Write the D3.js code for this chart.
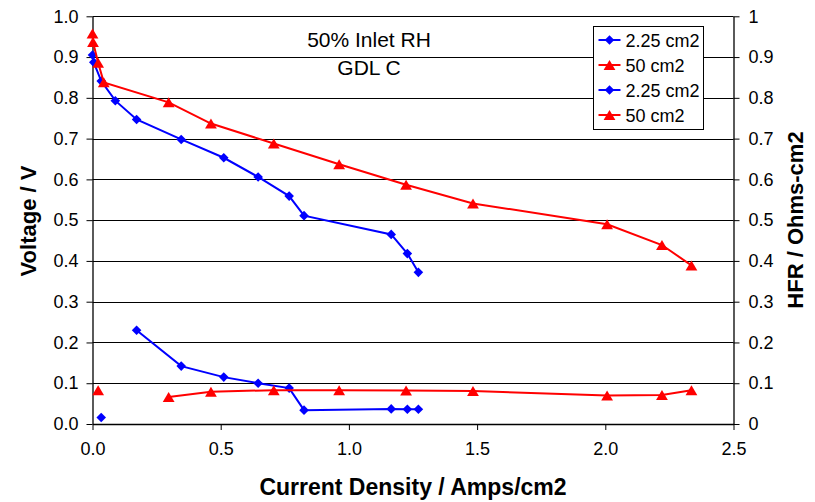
<html>
<head>
<script src="https://d3js.org/d3.v7.min.js"></script>
<style>
  body { margin: 0; background: #fff; }
  svg text { font-family: "Liberation Sans", Arial, sans-serif; fill: #000; }
</style>
</head>
<body>
<div id="graph"></div>
<script>
// current density (A/cm2) shared by voltage and HFR for each cell
var currentSmall = [0.000, 0.005, 0.034, 0.089, 0.172, 0.346, 0.512, 0.646, 0.767, 0.825, 1.165, 1.228, 1.271];
var voltageSmall = [0.905, 0.887, 0.841, 0.793, 0.747, 0.698, 0.653, 0.606, 0.559, 0.511, 0.465, 0.418, 0.372];
var hfrSmall     = [null, null, 0.016, null, 0.230, 0.142, 0.115, 0.100, 0.088, 0.034, 0.037, 0.036, 0.036];

var currentLarge = [0.000, 0.002, 0.022, 0.044, 0.297, 0.462, 0.707, 0.962, 1.223, 1.484, 2.007, 2.221, 2.336];
var voltageLarge = [0.958, 0.937, 0.886, 0.838, 0.789, 0.737, 0.688, 0.637, 0.587, 0.541, 0.490, 0.439, 0.389];
var hfrLarge     = [null, null, 0.083, null, 0.066, 0.079, 0.083, 0.083, 0.082, 0.081, 0.070, 0.071, 0.083];

var legendLabels = ["2.25 cm2", "50 cm2", "2.25 cm2", "50 cm2"];
var xTicks = [0, 0.5, 1.0, 1.5, 2.0, 2.5];
var yTicks = [0, 0.1, 0.2, 0.3, 0.4, 0.5, 0.6, 0.7, 0.8, 0.9, 1.0];

var blue = "#0000ff", red = "#ff0000";

var width = 815, height = 502;
var svg = d3.select("#graph").append("svg")
    .attr("width", width).attr("height", height);
svg.append("rect").attr("width", width).attr("height", height).attr("fill", "#fff");

var x = d3.scaleLinear().domain([0, 2.5]).range([92.5, 733.5]);
var y = d3.scaleLinear().domain([0, 1]).range([424, 16.3]);

// excel-ish markers centred on their box
var diamond = { draw: function(ctx, size) {
    var r = Math.sqrt(size) / 2 * 1.414;
    ctx.moveTo(0, -r); ctx.lineTo(r, 0); ctx.lineTo(0, r); ctx.lineTo(-r, 0); ctx.closePath();
}};
var triangle = { draw: function(ctx, size) {
    var w = Math.sqrt(size * 2.4), h = w * 0.85;
    ctx.moveTo(0, -h / 2); ctx.lineTo(w / 2, h / 2); ctx.lineTo(-w / 2, h / 2); ctx.closePath();
}};

// gridlines
svg.append("g").selectAll("line")
    .data(yTicks.filter(function(d) { return d > 0; }))
    .enter().append("line")
    .attr("x1", x(0)).attr("x2", x(2.5))
    .attr("y1", function(d) { return Math.round(y(d)) + 0.5; })
    .attr("y2", function(d) { return Math.round(y(d)) + 0.5; })
    .attr("stroke", "#000").attr("stroke-width", 1);

function customAxis(g) {
    g.select(".domain").attr("stroke", "#000").attr("stroke-width", 1.3);
    g.selectAll(".tick line").attr("stroke", "#000");
    g.selectAll(".tick text").style("font-size", "18px").style("font-family", "Liberation Sans, Arial, sans-serif");
}

var yLeft = d3.axisLeft(y).tickValues(yTicks).tickSize(6).tickSizeOuter(0)
    .tickFormat(d3.format(".1f"));
svg.append("g").attr("transform", "translate(" + x(0) + ",0)").call(yLeft).call(customAxis)
    .selectAll(".tick text").attr("x", -14);

var yRight = d3.axisRight(y).tickValues(yTicks).tickSize(6).tickSizeOuter(0)
    .tickFormat(function(d) { return d3.format("~g")(d); });
svg.append("g").attr("transform", "translate(" + x(2.5) + ",0)").call(yRight).call(customAxis)
    .selectAll(".tick text").attr("x", 15);

var xAxis = d3.axisBottom(x).tickValues(xTicks).tickSize(6).tickSizeOuter(0)
    .tickFormat(d3.format(".1f"));
svg.append("g").attr("transform", "translate(0," + y(0) + ")").call(xAxis).call(customAxis)
    .selectAll(".tick text").attr("y", 18);

// series
function drawSeries(xs, ys, color, sym, symSize) {
    var pts = xs.map(function(v, i) { return [v, ys[i]]; });
    var line = d3.line()
        .defined(function(d) { return d[1] !== null; })
        .x(function(d) { return x(d[0]); })
        .y(function(d) { return y(d[1]); });
    svg.append("path").datum(pts).attr("d", line)
        .attr("fill", "none").attr("stroke", color).attr("stroke-width", 2);
    svg.append("g").selectAll("path")
        .data(pts.filter(function(d) { return d[1] !== null; }))
        .enter().append("path")
        .attr("transform", function(d) { return "translate(" + x(d[0]) + "," + y(d[1]) + ")"; })
        .attr("d", d3.symbol().type(sym).size(symSize))
        .attr("fill", color);
}

drawSeries(currentSmall, voltageSmall, blue, diamond, 46);
drawSeries(currentLarge, voltageLarge, red, triangle, 58);
drawSeries(currentSmall, hfrSmall, blue, diamond, 46);
drawSeries(currentLarge, hfrLarge, red, triangle, 58);

// annotation
svg.append("text").attr("x", 369).attr("y", 47).attr("text-anchor", "middle")
    .style("font-size", "21px").text("50% Inlet RH");
svg.append("text").attr("x", 369).attr("y", 75).attr("text-anchor", "middle")
    .style("font-size", "21px").text("GDL C");

// axis titles
svg.append("text").attr("x", 413).attr("y", 495).attr("text-anchor", "middle")
    .style("font-size", "23px").style("font-weight", "bold").text("Current Density / Amps/cm2");
svg.append("text").attr("transform", "translate(36,221) rotate(-90)").attr("text-anchor", "middle")
    .style("font-size", "22px").style("font-weight", "bold").text("Voltage / V");
svg.append("text").attr("transform", "translate(803,220) rotate(-90)").attr("text-anchor", "middle")
    .style("font-size", "22px").style("font-weight", "bold").text("HFR / Ohms-cm2");

// legend
var legend = svg.append("g").attr("transform", "translate(593.5,26.5)");
legend.append("rect").attr("width", 110).attr("height", 103)
    .attr("fill", "#fff").attr("stroke", "#000").attr("stroke-width", 1);
var colors = [blue, red, blue, red];
var syms = [diamond, triangle, diamond, triangle];
var item = legend.selectAll("g.item").data(legendLabels).enter().append("g")
    .attr("class", "item")
    .attr("transform", function(d, i) { return "translate(0," + (13.5 + i * 25) + ")"; });
item.append("line").attr("x1", 5).attr("x2", 27)
    .attr("stroke", function(d, i) { return colors[i]; }).attr("stroke-width", 2);
item.append("path").attr("transform", "translate(16,0)")
    .attr("d", function(d, i) { return d3.symbol().type(syms[i]).size(i % 2 ? 58 : 46)(); })
    .attr("fill", function(d, i) { return colors[i]; });
item.append("text").attr("x", 32).attr("y", 6.5)
    .style("font-size", "18px").text(function(d) { return d; });
</script>
</body>
</html>
